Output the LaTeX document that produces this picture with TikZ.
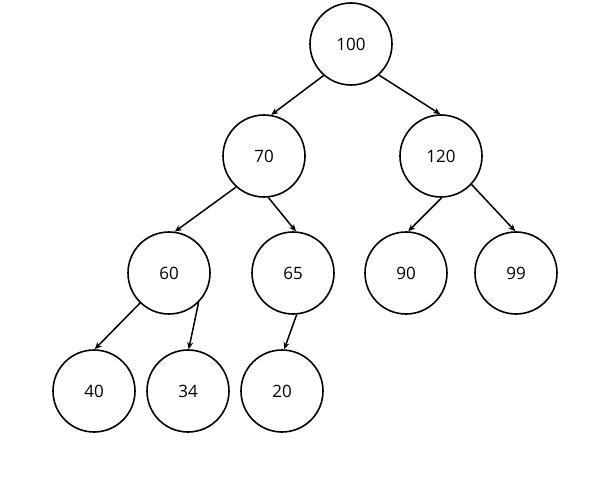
\documentclass[tikz,border=0pt]{standalone}
\usepackage{fontspec}
\setmainfont{Open Sans}
\usetikzlibrary{arrows.meta}
\begin{document}
\begin{tikzpicture}[x=1pt,y=-1pt,
  nd/.style={circle,draw=black,line width=1.6pt,minimum size=82pt,inner sep=0pt,font=\fontsize{17}{20}\selectfont},
  ar/.style={line width=1.5pt,-{Stealth[length=7pt,width=6pt]}}]
\useasboundingbox (0,0) rectangle (599,481);
\node[nd] (n100) at (351,44) {100};
\node[nd] (n70) at (264,156) {70};
\node[nd] (n120) at (441,156) {120};
\node[nd] (n60) at (169,273) {60};
\node[nd] (n65) at (293,273) {65};
\node[nd] (n90) at (406,273) {90};
\node[nd] (n99) at (516,273) {99};
\node[nd] (n40) at (94,391) {40};
\node[nd] (n34) at (188,391) {34};
\node[nd] (n20) at (282,391) {20};
\draw[ar] (n100.229) -- (n70.80);
\draw[ar] (n100.312) -- (n120.91);
\draw[ar] (n70.228) -- (n60.82);
\draw[ar] (n70.276) -- (n65.86);
\draw[ar] (n120.271) -- (n90.87);
\draw[ar] (n120.317) -- (n99.91);
\draw[ar] (n60.226) -- (n40.89);
\draw[ar] (n60.315) -- (n34.89);
\draw[ar] (n65.275) -- (n20.87);
\end{tikzpicture}
\end{document}
